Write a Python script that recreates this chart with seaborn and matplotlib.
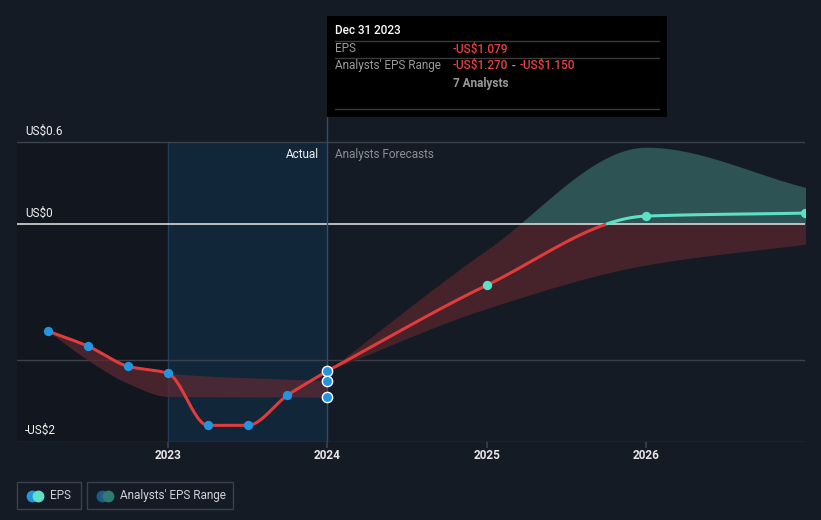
import numpy as np
import pandas as pd
import matplotlib
matplotlib.use("Agg")
import matplotlib.pyplot as plt
import seaborn as sns

# ---- data ----
actual_x = [2022.25, 2022.5, 2022.75, 2023.0, 2023.25, 2023.5, 2023.75, 2024.0]
actual_eps = [-0.787, -0.897, -1.044, -1.096, -1.478, -1.478, -1.257, -1.079]

forecast_x = [2024.0, 2025.0, 2026.0, 2027.0]
forecast_eps = [-1.079, -0.449, 0.059, 0.081]

past_range_x = [2022.25, 2022.5, 2022.75, 2023.0, 2024.0]
past_range_hi = [-0.787, -0.897, -1.044, -1.096, -1.150]
past_range_lo = [-0.787, -1.000, -1.170, -1.265, -1.270]

fc_range_x = [2024.0, 2025.0, 2026.0, 2027.0]
fc_range_hi = [-1.079, -0.190, 0.565, 0.270]
fc_range_lo = [-1.079, -0.620, -0.300, -0.147]

range_2024 = [-1.150, -1.270]

ytick_vals = [0.6, 0.0, -1.6]
ytick_labels = ["US$0.6", "US$0", "-US$2"]
xtick_vals = [2023, 2024, 2025, 2026]
xtick_labels = ["2023", "2024", "2025", "2026"]

# ---- helpers ----
def pchip(x, y, n=300):
    x = np.asarray(x, float); y = np.asarray(y, float)
    h = np.diff(x); d = np.diff(y) / h
    m = np.zeros_like(y)
    for k in range(1, len(x) - 1):
        if d[k - 1] * d[k] > 0:
            w1 = 2 * h[k] + h[k - 1]; w2 = h[k] + 2 * h[k - 1]
            m[k] = (w1 + w2) / (w1 / d[k - 1] + w2 / d[k])
    m[0] = d[0]
    m[-1] = d[-1]
    xs = np.linspace(x[0], x[-1], n)
    idx = np.clip(np.searchsorted(x, xs) - 1, 0, len(x) - 2)
    t = (xs - x[idx]) / h[idx]
    h00 = 2 * t**3 - 3 * t**2 + 1; h10 = t**3 - 2 * t**2 + t
    h01 = -2 * t**3 + 3 * t**2; h11 = t**3 - t**2
    ys = h00 * y[idx] + h10 * h[idx] * m[idx] + h01 * y[idx + 1] + h11 * h[idx] * m[idx + 1]
    return xs, ys

BG = "#151b24"
RED = "#e03c3c"
CYAN = "#5de0c6"
BLUE = "#2394df"
GRID = "#3a414c"

sns.set_theme(style="dark")
plt.rcParams["font.family"] = ["Roboto", "DejaVu Sans"]

fig = plt.figure(figsize=(8.21, 5.2), dpi=100, facecolor=BG)
W, H = 821, 520
x0p, x1p, y_top, y_bot = 17, 805, 117, 442
ax = fig.add_axes([x0p / W, 1 - y_bot / H, (x1p - x0p) / W, (y_bot - y_top) / H])
ax.set_facecolor(BG)

xmin = 2023 - (168 - 17) / 159.5
xmax = 2026 + (805 - 646) / 159.5
ymin, ymax = -1.6, (224 - 117) / 136
ax.set_xlim(xmin, xmax)
ax.set_ylim(ymin, ymax)
for s in ax.spines.values():
    s.set_visible(False)
ax.grid(False)

# regions (between bottom and top gridlines)
ax.fill_between([xmin, 2023.0], ymin, 0.6, color="#12161e", zorder=0, lw=0)
ax.fill_between([2023.0, 2024.0], ymin, 0.6, color="#12263a", zorder=0, lw=0)
ax.plot([2023.0, 2023.0], [ymin, 0.6], color="#1e3d5a", lw=1, zorder=1)

# gridlines
for v in [0.6, -1.0, -1.6]:
    ax.axhline(v, color=GRID, lw=1, zorder=1)

# past range band
px, phi = pchip(past_range_x, past_range_hi)
_, plo = pchip(past_range_x, past_range_lo)
ax.fill_between(px, plo, phi, color="#5a2a33", alpha=0.75, lw=0, zorder=2)

# forecast range band
fx, fhi = pchip(fc_range_x, fc_range_hi)
_, flo = pchip(fc_range_x, fc_range_lo)
ax.fill_between(fx, flo, np.minimum(fhi, 0), where=flo < 0, color="#46232b", lw=0, zorder=2, interpolate=True)
ax.fill_between(fx, np.maximum(flo, 0), fhi, where=fhi > 0, color="#2e5354", lw=0, zorder=2, interpolate=True)

# zero line
ax.axhline(0, color="#d8d8d8", lw=1.2, zorder=3)

# EPS lines
axs, ays = pchip(actual_x, actual_eps)
sns.lineplot(x=axs, y=ays, ax=ax, color=RED, lw=2.2, zorder=4, sort=False)
fxs, fys = pchip(forecast_x, forecast_eps)
neg = fys <= 0.002
sns.lineplot(x=fxs[neg], y=fys[neg], ax=ax, color=RED, lw=2.2, zorder=4, sort=False)
sns.lineplot(x=fxs[~neg], y=fys[~neg], ax=ax, color=CYAN, lw=2.2, zorder=4, sort=False)

# markers
sns.scatterplot(x=actual_x[:-1], y=actual_eps[:-1], ax=ax, color=BLUE, s=45, lw=0, zorder=5)
sns.scatterplot(x=[actual_x[-1]] * 3, y=[actual_eps[-1]] + range_2024, ax=ax, color=BLUE,
                s=55, edgecolor="white", lw=1.0, zorder=6)
sns.scatterplot(x=forecast_x[1:], y=forecast_eps[1:], ax=ax, color=CYAN, s=45, lw=0, zorder=5)

# vertical line at tooltip date
ax.axvline(2024.0, color="#2b4f6e", lw=1, zorder=3)

# ticks
ax.set_xticks(xtick_vals)
ax.set_xticklabels(xtick_labels, color="#e6e6e6", fontsize=8.5, fontweight="bold")
ax.tick_params(axis="x", length=4, color=GRID, pad=1, bottom=True)
ax.set_yticks([])
for v, lab in zip(ytick_vals, ytick_labels):
    ax.text(xmin + 0.05, v + 0.035, lab, color="#f0f0f0", fontsize=8.5, va="bottom", ha="left", zorder=7)

# Actual / Forecast labels
ax.text(2024.0 - 0.05, 0.515, "Actual", color="#f0f0f0", fontsize=8.5, ha="right", va="center")
ax.text(2024.0 + 0.05, 0.515, "Analysts Forecasts", color="#8a8f96", fontsize=8.5, ha="left", va="center")

# tooltip
def fx_(px_):
    return px_ / W
def fy_(py_):
    return 1 - py_ / H

tip = plt.Rectangle((fx_(327), fy_(117)), (667 - 327) / W, (117 - 16) / H, transform=fig.transFigure,
                    facecolor="black", edgecolor="none", zorder=10)
fig.patches.append(tip)
for yy in [41, 58, 109]:
    fig.add_artist(plt.Line2D([fx_(335), fx_(659)], [fy_(yy), fy_(yy)], color="#3a3a3a", lw=1,
                              transform=fig.transFigure, zorder=11))
fig.text(fx_(335), fy_(31), "Dec 31 2023", color="white", fontsize=8.5, va="center", fontweight="medium", zorder=12)
fig.text(fx_(335), fy_(49), "EPS", color="#9a9a9a", fontsize=8.5, va="center", zorder=12)
fig.text(fx_(453), fy_(49), "-US$1.079", color="#e8423f", fontsize=8.5, va="center", fontweight="medium", zorder=12)
fig.text(fx_(335), fy_(66), "Analysts' EPS Range", color="#9a9a9a", fontsize=8.5, va="center", zorder=12)

renderer = fig.canvas.get_renderer()
xcur = 453
for txt, col in [("-US$1.270", "#e8423f"), (" - ", "#9a9a9a"), ("-US$1.150", "#e8423f")]:
    t = fig.text(fx_(xcur), fy_(66), txt, color=col, fontsize=8.5, va="center", fontweight="medium", zorder=12)
    bb = t.get_window_extent(renderer)
    xcur = xcur + bb.width + 1
fig.text(fx_(453), fy_(83), "7 Analysts", color="#9a9a9a", fontsize=8.5, va="center", fontweight="bold", zorder=12)

# legend boxes
def legbox(x0, x1, c1, c2, label):
    r = plt.Rectangle((fx_(x0), fy_(509)), (x1 - x0) / W, 27 / H, transform=fig.transFigure,
                      facecolor="none", edgecolor="#3a414c", lw=1, zorder=10)
    fig.patches.append(r)
    fig.add_artist(plt.Line2D([fx_(x0 + 15)], [fy_(495.5)], marker="o", ms=7.5, color=c1, lw=0,
                              transform=fig.transFigure, zorder=11))
    fig.add_artist(plt.Line2D([fx_(x0 + 21)], [fy_(495.5)], marker="o", ms=7.5, color=c2, lw=0,
                              transform=fig.transFigure, zorder=12))
    fig.text(fx_(x0 + 33), fy_(495.5), label, color="#cfd2d6", fontsize=8.5, va="center", zorder=12)

legbox(17, 81, BLUE, CYAN, "EPS")
legbox(87, 233, "#1f5a8a", "#2f7a73", "Analysts' EPS Range")

fig.savefig("out.png", dpi=100, facecolor=BG)
